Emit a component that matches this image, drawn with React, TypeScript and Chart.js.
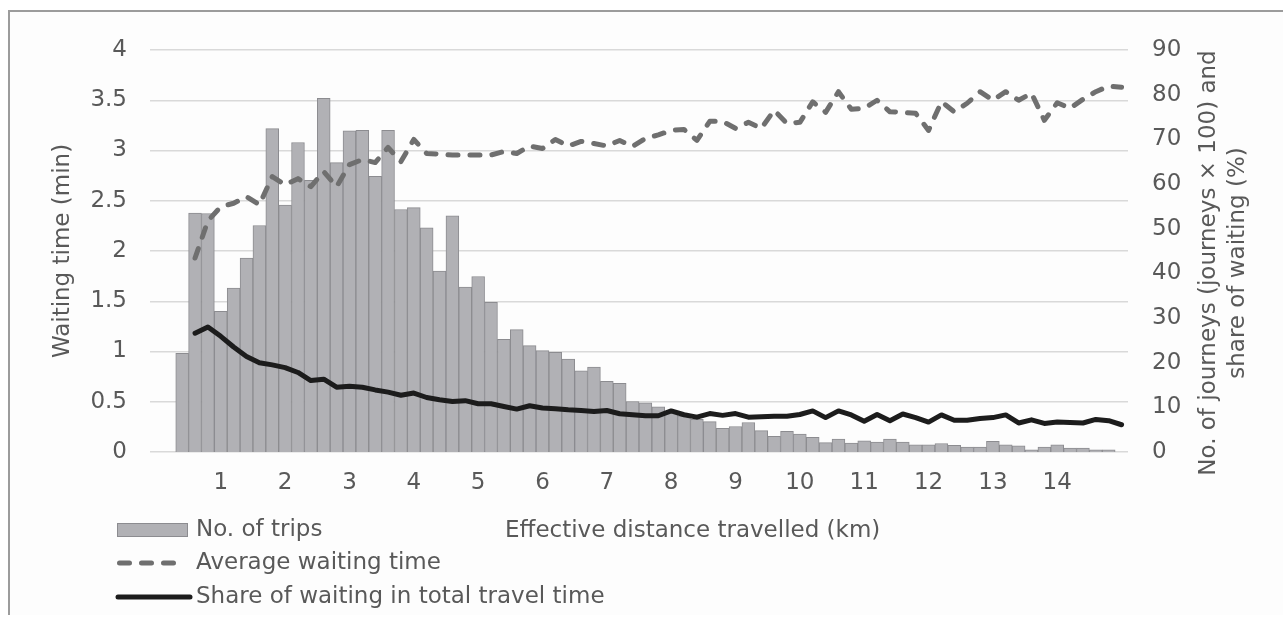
import React, { useEffect, useRef } from 'react';
import { Chart, registerables } from 'chart.js';

Chart.register(...registerables);

const CATEGORIES = [
  '0', '0.2', '0.4', '0.6', '0.8', '1', '1.2', '1.4', '1.6', '1.8',
  '2', '2.2', '2.4', '2.6', '2.8', '3', '3.2', '3.4', '3.6', '3.8',
  '4', '4.2', '4.4', '4.6', '4.8', '5', '5.2', '5.4', '5.6', '5.8',
  '6', '6.2', '6.4', '6.6', '6.8', '7', '7.2', '7.4', '7.6', '7.8',
  '8', '8.2', '8.4', '8.6', '8.8', '9', '9.2', '9.4', '9.6', '9.8',
  '10', '10.2', '10.4', '10.6', '10.8', '11', '11.2', '11.4', '11.6', '11.8',
  '12', '12.2', '12.4', '12.6', '12.8', '13', '13.2', '13.4', '13.6', '13.8',
  '14', '14.2', '14.4', '14.6', '14.8', '15',
];

const X_TICK_LABELS = ['1', '2', '3', '4', '5', '6', '7', '8', '9', '10', '11', '12', '13', '14'];
const LEFT_TICK_LABELS = ['0', '0.5', '1', '1.5', '2', '2.5', '3', '3.5', '4'];
const RIGHT_TICK_LABELS = ['0', '10', '20', '30', '40', '50', '60', '70', '80', '90'];

// No. of trips (journeys x 100), right axis
const TRIPS = [
  null, null, 22.1, 53.5, 53.4, 31.5, 36.7, 43.4, 50.7, 72.4,
  55.3, 69.3, 60.8, 79.2, 64.8, 71.9, 72.0, 61.7, 72.0, 54.3,
  54.7, 50.2, 40.5, 52.9, 36.9, 39.3, 33.5, 25.2, 27.4, 23.8,
  22.7, 22.3, 20.8, 18.2, 19.0, 15.8, 15.4, 11.3, 11.0, 10.1,
  9.0, 8.1, 7.3, 6.8, 5.3, 5.7, 6.6, 4.8, 3.5, 4.6,
  4.0, 3.3, 2.1, 2.9, 2.0, 2.5, 2.2, 2.9, 2.2, 1.6,
  1.6, 1.9, 1.5, 1.1, 1.1, 2.4, 1.6, 1.4, 0.5, 1.1,
  1.6, 0.9, 0.9, 0.5, 0.5, null,
];

// Average waiting time (min), left axis
const AVG_WAIT = [
  null, null, null, 1.93, 2.3, 2.44, 2.475, 2.54, 2.46, 2.74,
  2.66, 2.72, 2.64, 2.79, 2.64, 2.86, 2.91, 2.88, 3.03, 2.89,
  3.11, 2.97, 2.965, 2.955, 2.955, 2.955, 2.955, 2.99, 2.97, 3.045,
  3.02, 3.11, 3.045, 3.09, 3.07, 3.045, 3.1, 3.04, 3.12, 3.155,
  3.2, 3.21, 3.1, 3.29, 3.29, 3.22, 3.28, 3.22, 3.4, 3.27,
  3.28, 3.485, 3.38, 3.585, 3.41, 3.42, 3.5, 3.385, 3.38, 3.37,
  3.2, 3.485, 3.385, 3.47, 3.585, 3.5, 3.585, 3.5, 3.57, 3.3,
  3.475, 3.42, 3.51, 3.585, 3.64, 3.63,
];

// Share of waiting in total travel time (%), right axis
const SHARE_WAIT = [
  null, null, null, 26.6, 28.0, 25.9, 23.5, 21.4, 20.0, 19.5,
  18.9, 17.8, 16.0, 16.3, 14.5, 14.7, 14.5, 13.9, 13.4, 12.7,
  13.2, 12.2, 11.7, 11.3, 11.5, 10.8, 10.8, 10.2, 9.6, 10.36,
  9.84, 9.7, 9.46, 9.3, 9.08, 9.3, 8.57, 8.34, 8.12, 8.12,
  9.2, 8.34, 7.8, 8.6, 8.2, 8.6, 7.8, 7.9, 8.0, 8.0,
  8.4, 9.2, 7.7, 9.2, 8.3, 6.9, 8.4, 7.0, 8.5, 7.7,
  6.7, 8.3, 7.1, 7.1, 7.5, 7.7, 8.3, 6.5, 7.2, 6.4,
  6.7, 6.6, 6.5, 7.3, 7.0, 6.1,
];

const SERIES_LABELS = ['No. of trips', 'Average waiting time', 'Share of waiting in total travel time'];
const X_TITLE = 'Effective distance travelled (km)';
const LEFT_TITLE = 'Waiting time (min)';
const RIGHT_TITLE = ['No. of journeys (journeys \u00d7 100) and', 'share of waiting (%)'];

const FONT = '"DejaVu Sans", "Liberation Sans", Arial, sans-serif';
const FONT_SIZE = 23;
const TEXT_COLOR = '#595959';

const W = 1283;
const H = 640;

const extrasPlugin = {
  id: 'extras',
  afterDraw(chart: any) {
    const ctx = chart.ctx as CanvasRenderingContext2D;
    const area = chart.chartArea;
    ctx.save();
    ctx.font = `${FONT_SIZE}px ${FONT}`;
    ctx.fillStyle = TEXT_COLOR;

    // x axis title
    ctx.textAlign = 'left';
    ctx.textBaseline = 'alphabetic';
    ctx.fillText(X_TITLE, 505, area.bottom + 85);

    // right axis title (reads bottom to top)
    const cy = (area.top + area.bottom) / 2 + 12;
    ctx.textAlign = 'center';
    ctx.textBaseline = 'middle';
    RIGHT_TITLE.forEach((line, i) => {
      ctx.save();
      ctx.translate(area.right + 81 + i * 29, cy);
      ctx.rotate(-Math.PI / 2);
      ctx.fillText(line, 0, 0);
      ctx.restore();
    });

    // legend
    const ds = chart.data.datasets;
    const rowsY = [530, 563, 597];
    const sx0 = 117;
    const sx1 = 188;
    ds.forEach((d: any, i: number) => {
      const y = rowsY[i];
      ctx.save();
      if (d.type === 'bar') {
        ctx.fillStyle = d.backgroundColor;
        ctx.fillRect(sx0, y - 7, sx1 - sx0, 14);
        ctx.strokeStyle = d.borderColor;
        ctx.lineWidth = 1;
        ctx.strokeRect(sx0 + 0.5, y - 6.5, sx1 - sx0 - 1, 13);
      } else {
        ctx.strokeStyle = d.borderColor;
        ctx.lineWidth = d.borderWidth;
        ctx.lineCap = 'round';
        ctx.setLineDash(d.borderDash || []);
        ctx.beginPath();
        if (d.borderDash && d.borderDash.length) {
          ctx.moveTo(sx0 + 2.5, y);
          ctx.lineTo(sx1 - 6, y);
        } else {
          ctx.moveTo(sx0 + 1, y);
          ctx.lineTo(sx1 + 2, y);
        }
        ctx.stroke();
      }
      ctx.restore();
      ctx.fillStyle = TEXT_COLOR;
      ctx.textAlign = 'left';
      ctx.textBaseline = 'middle';
      ctx.fillText(d.label, 196, y);
    });
    ctx.restore();
  },
};

export default function App() {
  const canvasRef = useRef<HTMLCanvasElement | null>(null);

  useEffect(() => {
    if (!canvasRef.current) return;
    const chart = new Chart(canvasRef.current, {
      type: 'bar',
      data: {
        labels: CATEGORIES,
        datasets: [
          {
            type: 'bar',
            label: SERIES_LABELS[0],
            data: TRIPS,
            yAxisID: 'y2',
            backgroundColor: '#b1b1b5',
            borderColor: '#8c8c90',
            borderWidth: 1,
            barPercentage: 1,
            categoryPercentage: 1,
            order: 3,
          },
          {
            type: 'line',
            label: SERIES_LABELS[1],
            data: AVG_WAIT,
            yAxisID: 'y',
            borderColor: '#6f6f6f',
            backgroundColor: '#6f6f6f',
            borderWidth: 5,
            borderDash: [10, 12],
            borderCapStyle: 'round',
            borderJoinStyle: 'round',
            pointRadius: 0,
            tension: 0,
            fill: false,
            order: 2,
          },
          {
            type: 'line',
            label: SERIES_LABELS[2],
            data: SHARE_WAIT,
            yAxisID: 'y2',
            borderColor: '#1c1c1c',
            backgroundColor: '#1c1c1c',
            borderWidth: 5,
            borderCapStyle: 'round',
            borderJoinStyle: 'round',
            pointRadius: 0,
            tension: 0,
            fill: false,
            order: 1,
          },
        ] as any,
      },
      options: {
        responsive: false,
        animation: false,
        devicePixelRatio: 1,
        layout: { padding: { top: 50, left: 0, right: 0, bottom: 0 } },
        plugins: {
          legend: { display: false },
          tooltip: { enabled: false },
          title: { display: false },
        },
        scales: {
          x: {
            type: 'category',
            offset: true,
            grid: { display: false, drawTicks: false },
            border: { display: false },
            ticks: {
              autoSkip: false,
              maxRotation: 0,
              minRotation: 0,
              padding: 17,
              color: TEXT_COLOR,
              font: { family: FONT, size: FONT_SIZE },
              callback: (_v: any, i: number) => (X_TICK_LABELS.includes(CATEGORIES[i]) ? CATEGORIES[i] : ''),
            },
            afterFit: (scale: any) => {
              scale.height = H - 452;
            },
          },
          y: {
            type: 'linear',
            position: 'left',
            min: 0,
            max: 4,
            grid: { color: '#d9d9d9', lineWidth: 1.5, drawTicks: false },
            border: { display: false },
            ticks: {
              stepSize: 0.5,
              padding: 23,
              color: TEXT_COLOR,
              font: { family: FONT, size: FONT_SIZE },
              callback: (_v: any, i: number) => LEFT_TICK_LABELS[i],
            },
            title: {
              display: true,
              text: LEFT_TITLE,
              color: TEXT_COLOR,
              font: { family: FONT, size: FONT_SIZE },
              padding: { top: 49, bottom: 0 },
            },
            afterFit: (scale: any) => {
              scale.width = 150;
            },
          },
          y2: {
            type: 'linear',
            position: 'right',
            min: 0,
            max: 90,
            grid: { display: false, drawTicks: false },
            border: { display: false },
            ticks: {
              stepSize: 10,
              padding: 24,
              color: TEXT_COLOR,
              font: { family: FONT, size: FONT_SIZE },
              callback: (_v: any, i: number) => RIGHT_TICK_LABELS[i],
            },
            afterFit: (scale: any) => {
              scale.width = W - 1128;
            },
          },
        },
      } as any,
      plugins: [extrasPlugin],
    });
    return () => chart.destroy();
  }, []);

  return (
    <div style={{ position: 'fixed', left: 0, top: 0, width: W, height: H, background: '#ffffff' }}>
      <div
        style={{
          position: 'absolute',
          left: 8,
          top: 10,
          width: W - 8,
          height: 605,
          borderLeft: '2px solid #9c9c9c',
          borderTop: '2px solid #9c9c9c',
          background: '#fdfdfd',
          boxSizing: 'border-box',
        }}
      />
      <canvas
        ref={canvasRef}
        width={W}
        height={H}
        style={{ position: 'absolute', left: 0, top: 0, width: W, height: H }}
      />
    </div>
  );
}
